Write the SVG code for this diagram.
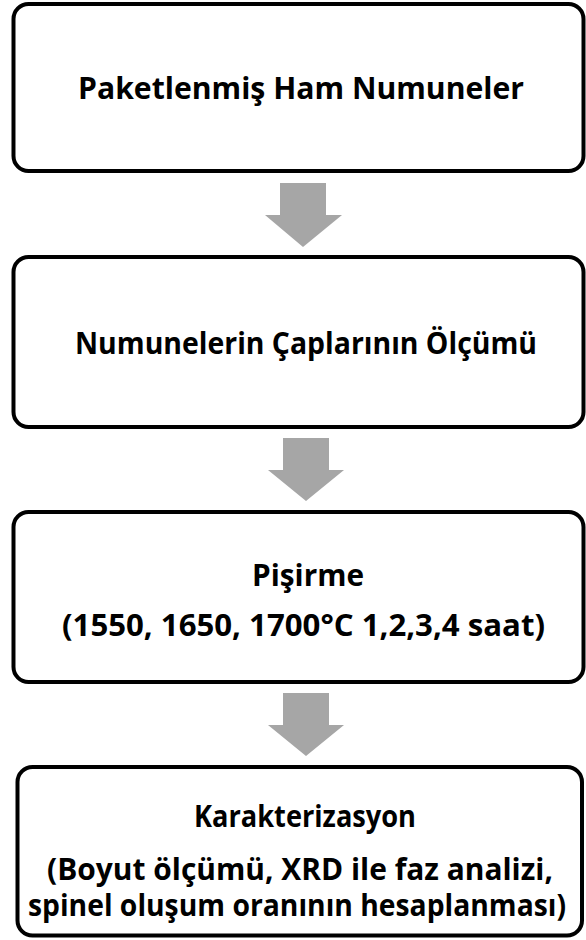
<svg xmlns="http://www.w3.org/2000/svg" width="586" height="940" viewBox="0 0 586 940">
<style>
.box{fill:#fff;stroke:#000;stroke-width:4}
.arr{fill:#a6a6a6}
.t{font-family:"Open Sans","Liberation Sans",sans-serif;font-weight:700;font-size:31px;fill:#000;text-anchor:middle}
.s{font-size:30px}
</style>
<rect width="586" height="940" fill="#fff"/>
<g id="connectors">
<polygon class="arr" points="280,183 326,183 326,215 342,215 303,247 265,215 280,215"/>
<polygon class="arr" points="283,438 329,438 329,470 344,470 306,501 268,470 283,470"/>
<polygon class="arr" points="283,693 329,693 329,725 344,725 306,756 268,725 283,725"/>
</g>
<g id="n1">
<rect class="box" x="13.5" y="4" width="570" height="167" rx="15"/>
<text class="t" x="301" y="99" textLength="446" lengthAdjust="spacingAndGlyphs">Paketlenmiş Ham Numuneler</text>
</g>
<g id="n2">
<rect class="box" x="13.5" y="257" width="570" height="170" rx="15"/>
<text class="t" x="306" y="354" textLength="462" lengthAdjust="spacingAndGlyphs">Numunelerin Çaplarının Ölçümü</text>
</g>
<g id="n3">
<rect class="box" x="13.5" y="512" width="570" height="170" rx="15"/>
<text class="t" x="308" y="586" textLength="112" lengthAdjust="spacingAndGlyphs">Pişirme</text>
<text class="t" x="303.5" y="636" textLength="483" lengthAdjust="spacingAndGlyphs">(1550, 1650, 1700°C 1,2,3,4 saat)</text>
</g>
<g id="n4">
<rect class="box" x="17.5" y="767" width="564.5" height="168.5" rx="15"/>
<text class="t" x="305" y="827" textLength="222" lengthAdjust="spacingAndGlyphs">Karakterizasyon</text>
<text class="t s" x="300" y="880" textLength="506" lengthAdjust="spacingAndGlyphs">(Boyut ölçümü, XRD ile faz analizi,</text>
<text class="t s" x="297" y="916" textLength="538" lengthAdjust="spacingAndGlyphs">spinel oluşum oranının hesaplanması)</text>
</g>
</svg>
